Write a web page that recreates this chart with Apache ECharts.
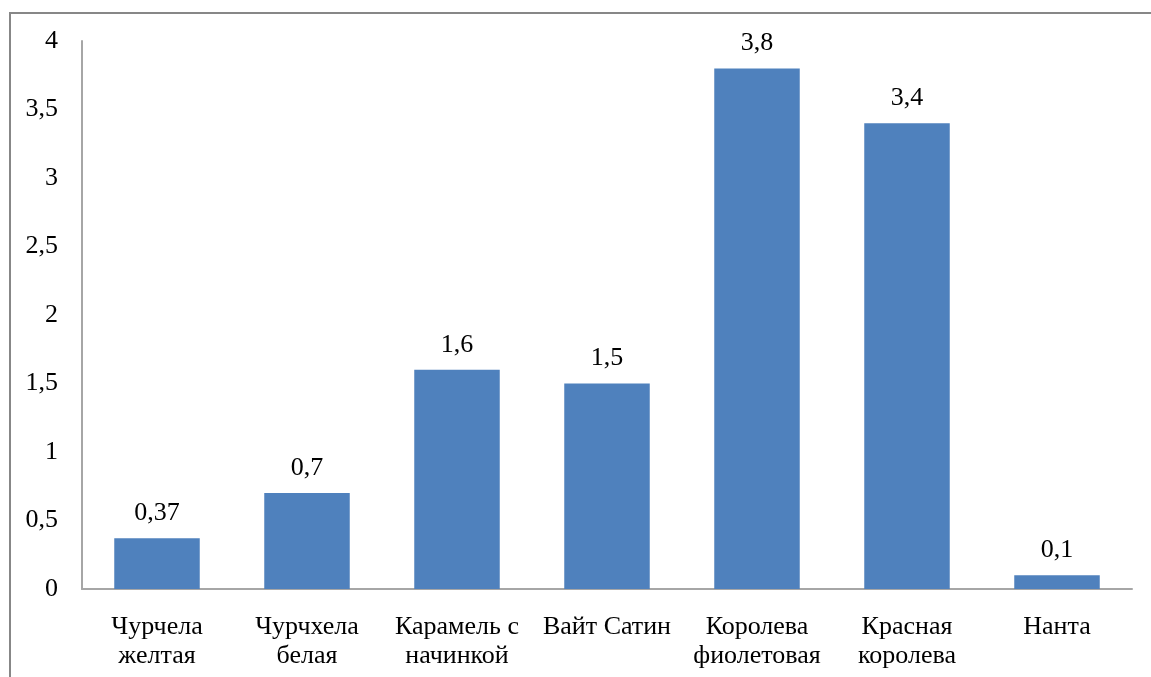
<!DOCTYPE html>
<html><head><meta charset="utf-8">
<script src="https://cdn.jsdelivr.net/npm/echarts@6/dist/echarts.min.js"></script>
<style>
html,body{margin:0;padding:0;background:#fff;overflow:hidden}
#frame{position:absolute;left:9px;top:12px;width:1200px;height:700px;border:2px solid #878787;box-sizing:border-box}
#c{position:absolute;left:0;top:0;width:1151px;height:677px}
</style></head><body>
<div id="frame"></div>
<div id="c"></div>
<script>
var categories = ['Чурчела\nжелтая','Чурчхела\nбелая','Карамель с\nначинкой','Вайт Сатин','Королева\nфиолетовая','Красная\nкоролева','Нанта'];
var values = [0.37, 0.7, 1.6, 1.5, 3.8, 3.4, 0.1];
var yTicks = [0, 0.5, 1, 1.5, 2, 2.5, 3, 3.5, 4];
var font = '"Liberation Serif","Times New Roman",serif';
var chart = echarts.init(document.getElementById('c'));
function fmt(v){ return String(v).replace('.', ','); }
chart.setOption({
  animation:false,
  grid:{left:82,right:19,top:41,bottom:88,containLabel:false},
  xAxis:{type:'category',data:categories,
    axisLine:{lineStyle:{color:'#a6a6a6',width:2}},
    axisTick:{show:false},
    axisLabel:{color:'#000',fontFamily:font,fontSize:26,lineHeight:29,margin:24,interval:0}},
  yAxis:{type:'value',min:0,max:4,interval:0.5,
    axisLine:{show:true,lineStyle:{color:'#a6a6a6',width:2}},
    axisTick:{show:false},splitLine:{show:false},
    axisLabel:{color:'#000',fontFamily:font,fontSize:26,margin:24,formatter:function(v){return fmt(v);}}},
  series:[{type:'bar',data:values,barWidth:'57%',
    itemStyle:{color:'#4f81bd'},
    label:{show:true,position:'top',distance:12,color:'#000',fontFamily:font,fontSize:26,formatter:function(p){return fmt(p.value);}}}]
});
</script></body></html>
